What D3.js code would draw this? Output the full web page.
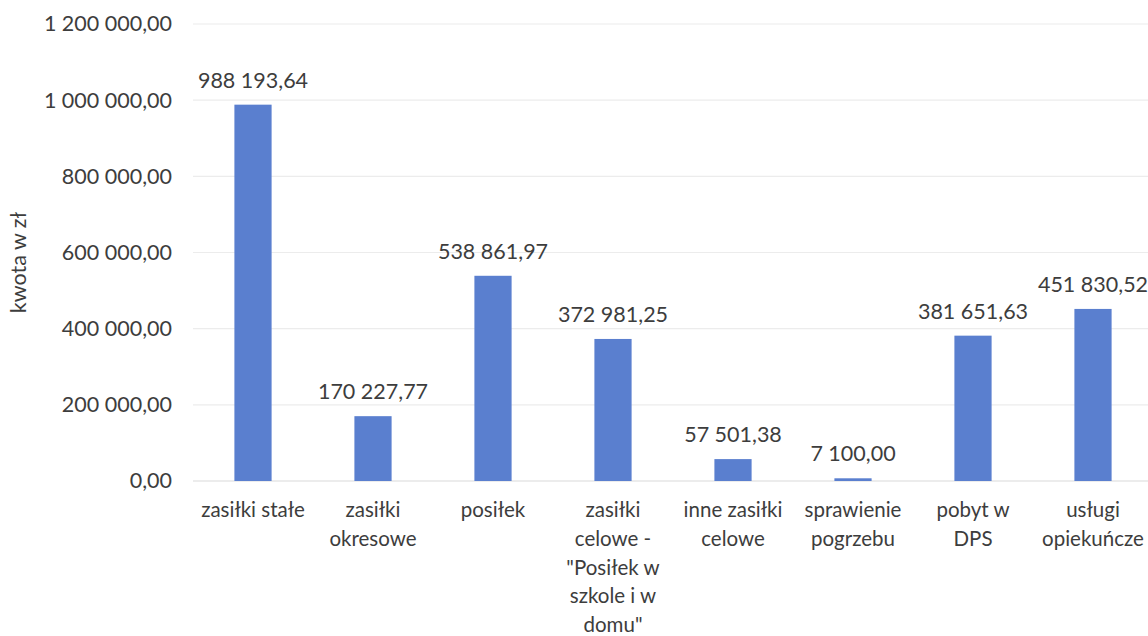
<!DOCTYPE html>
<html>
<head>
<meta charset="utf-8">
<script src="https://cdn.jsdelivr.net/npm/d3@7"></script>
<style>
  body { margin: 0; background: #fff; }
  text { font-family: Lato, "Open Sans", sans-serif; fill: #3d3d3d; }
</style>
</head>
<body>
<div id="chart"></div>
<script>
let categories = [
    "zasiłki stałe",
    "zasiłki\nokresowe",
    "posiłek",
    "zasiłki\ncelowe -\n\"Posiłek w\nszkole i w\ndomu\"",
    "inne zasiłki\ncelowe",
    "sprawienie\npogrzebu",
    "pobyt w\nDPS",
    "usługi\nopiekuńcze"
];
let values = [988193.64, 170227.77, 538861.97, 372981.25, 57501.38, 7100.00, 381651.63, 451830.52];
let yTicks = [0, 200000, 400000, 600000, 800000, 1000000, 1200000];
let yTitle = "kwota w zł";

let width = 1148;
let height = 636;
let margin = ({ top: 24, right: -5, bottom: 155, left: 193 });
let barColor = "#5a7fcf";
let fontSize = "21.5px";

const pl = d3.formatLocale({ decimal: ",", thousands: "\u00a0", grouping: [3], currency: ["", " zł"] });
const fmt = pl.format(",.2f");

const svg = d3.select("#chart").append("svg")
    .attr("width", width)
    .attr("height", height);

let x = d3.scaleBand()
    .domain(categories)
    .range([margin.left, width - margin.right])
    .paddingInner(0.69)
    .paddingOuter(0.345);

let y = d3.scaleLinear()
    .domain([0, 1200000])
    .range([height - margin.bottom, margin.top]);

// gridlines
svg.append("g")
    .selectAll("line")
    .data(yTicks)
    .join("line")
    .attr("x1", margin.left)
    .attr("x2", width)
    .attr("y1", d => y(d))
    .attr("y2", d => y(d))
    .attr("stroke", d => d === 0 ? "#d9d9d9" : "#ececec")
    .attr("stroke-width", 1.2);

// y axis labels
svg.append("g")
    .attr("transform", `translate(${margin.left - 21},0)`)
    .call(d3.axisLeft(y).tickValues(yTicks).tickFormat(fmt).tickSize(0).tickPadding(0))
    .call(g => g.select(".domain").remove())
    .call(g => g.selectAll("text").style("font-size", fontSize).attr("fill", "#3d3d3d"));

svg.append("text")
    .attr("transform", `translate(26,${y(600000) + 10}) rotate(-90)`)
    .attr("text-anchor", "middle")
    .style("font-size", fontSize)
    .text(yTitle);

// bars
svg.append("g")
    .selectAll("rect")
    .data(values)
    .join("rect")
    .attr("x", (d, i) => x(categories[i]))
    .attr("width", x.bandwidth())
    .attr("y", d => y(d))
    .attr("height", d => y(0) - y(d))
    .attr("fill", barColor);

// value labels
svg.append("g")
    .selectAll("text")
    .data(values)
    .join("text")
    .attr("x", (d, i) => x(categories[i]) + x.bandwidth() / 2)
    .attr("y", d => y(d) - 17)
    .attr("text-anchor", "middle")
    .style("font-size", fontSize)
    .text(d => fmt(d));

// category labels
const cat = svg.append("g")
    .selectAll("text")
    .data(categories)
    .join("text")
    .attr("x", d => x(d) + x.bandwidth() / 2)
    .attr("y", 517)
    .attr("text-anchor", "middle")
    .style("font-size", "20.5px");
cat.selectAll("tspan")
    .data(d => d.split("\n"))
    .join("tspan")
    .attr("x", function () { return d3.select(this.parentNode).attr("x"); })
    .attr("dy", (d, i) => i === 0 ? 0 : 28.8)
    .text(d => d);
</script>
</body>
</html>
